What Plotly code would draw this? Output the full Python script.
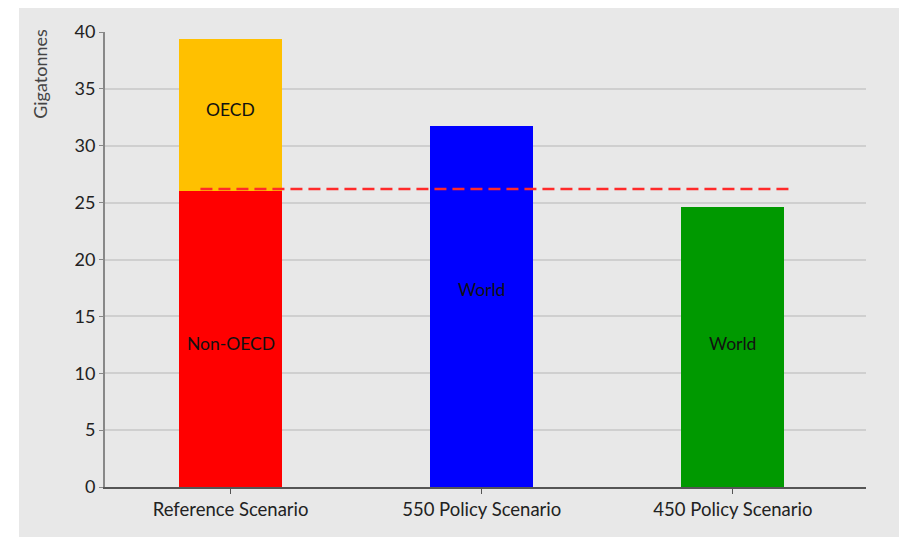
import plotly.graph_objects as go

categories = ["Reference Scenario", "550 Policy Scenario", "450 Policy Scenario"]
non_oecd = [26.0, None, None]
oecd = [13.4, None, None]
world = [None, 31.7, 24.6]
world_colors = ["#0000ff", "#0000ff", "#009900"]
threshold = 26.2
y_ticks = [0, 5, 10, 15, 20, 25, 30, 35, 40]

label_texts = ["OECD", "Non-OECD", "World", "World"]
label_x = [0, 0, 1, 2]
label_y = [33.2, 12.6, 17.4, 12.6]

FONT = "Lato"
OFF = 8  # default page body margin
W, H = 907 - OFF, 537 - OFF
ml, mr, mt, mb = 105 - OFF, 41, 30 - OFF, 50
pw, ph = W - ml - mr, H - mt - mb

fig = go.Figure()
fig.add_trace(go.Bar(x=[0, 1, 2], y=non_oecd, marker_color="#ff0000", width=0.41,
                     marker_line_width=0, showlegend=False, hoverinfo="skip"))
fig.add_trace(go.Bar(x=[0, 1, 2], y=oecd, marker_color="#ffc000", width=0.41,
                     marker_line_width=0, showlegend=False, hoverinfo="skip"))
fig.add_trace(go.Bar(x=[0, 1, 2], y=world, marker_color=world_colors, width=0.41,
                     marker_line_width=0, showlegend=False, hoverinfo="skip"))
fig.add_trace(go.Scatter(x=[-0.12, 2.23], y=[threshold, threshold], mode="lines",
                         line=dict(color="#ff2a2a", width=2.5, dash="12px,6px"),
                         showlegend=False, hoverinfo="skip"))

for t, x, y in zip(label_texts, label_x, label_y):
    fig.add_annotation(x=x, y=y, text=t, showarrow=False,
                       font=dict(family=FONT, size=17.5, color="#111111"))

fig.add_annotation(xref="paper", yref="paper", x=(40 - OFF - ml) / pw,
                   y=(H - mb - (72 - OFF)) / ph, xanchor="center", yanchor="middle",
                   text="Gigatonnes", textangle=-90, showarrow=False,
                   font=dict(family=FONT, size=18, color="#444444"))

# grey background panel (white margin at left)
fig.add_shape(type="rect", xref="paper", yref="paper", layer="below",
              x0=(19 - OFF - ml) / pw, x1=(W - ml) / pw + 0.01,
              y0=-(mb + 5) / ph, y1=(H - mb + 5) / ph,
              fillcolor="#e8e8e8", line_width=0)

fig.update_layout(
    width=W, height=H, barmode="stack",
    margin=dict(l=ml, r=mr, t=mt, b=mb),
    paper_bgcolor="#ffffff", plot_bgcolor="#e8e8e8",
    font=dict(family=FONT, color="#222222"),
    xaxis=dict(tickmode="array", tickvals=[0, 1, 2], ticktext=categories,
               range=[-0.5, 2.53], showgrid=False, zeroline=False,
               showline=True, linecolor="#555555", linewidth=1.5,
               ticks="outside", tickson="boundaries", ticklen=5, tickcolor="#555555",
               tickfont=dict(family=FONT, size=18.5, color="#222222")),
    yaxis=dict(range=[0, 40], tickvals=y_ticks, showgrid=True, gridcolor="#cfcfcf",
               gridwidth=1.5, zeroline=False, showline=True, linecolor="#888888",
               linewidth=2, ticks="outside", ticklen=4, tickcolor="#888888",
               tickfont=dict(family=FONT, size=18, color="#222222")),
)

fig.write_html("out.html")
